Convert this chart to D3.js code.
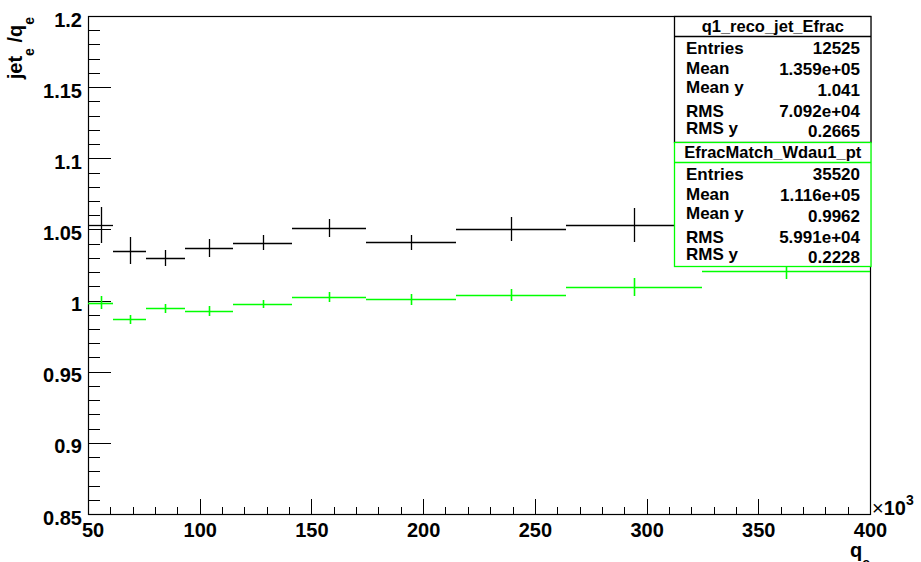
<!DOCTYPE html>
<html>
<head>
<meta charset="utf-8">
<script src="https://cdn.jsdelivr.net/npm/d3@7"></script>
<style>
  html, body { margin: 0; padding: 0; background: #fff; }
  svg { display: block; }
  text { font-family: "Liberation Sans", Arial, sans-serif; font-weight: bold; }
</style>
</head>
<body>
<svg id="chart" width="921" height="562"></svg>
<script>
// ---------------- data ----------------
const binEdges = [50, 61.4, 75.8, 93.4, 115, 141.4, 174.3, 214.6, 264, 325, 400]; // x (×10^3)
const recoValues = [1.0531, 1.0351, 1.0297, 1.0367, 1.0407, 1.0508, 1.0410, 1.0503, 1.0533, 1.055];
const recoErrors = [0.0129, 0.0094, 0.0056, 0.0063, 0.0053, 0.0063, 0.0053, 0.0082, 0.0120, 0.0120];
const matchValues = [0.9985, 0.9868, 0.9946, 0.9929, 0.9976, 1.0027, 1.0009, 1.0041, 1.0095, 1.0206];
const matchErrors = [0.0047, 0.0032, 0.0030, 0.0034, 0.0027, 0.0035, 0.0039, 0.0043, 0.0061, 0.0057];

const xMajorTicks = [50, 100, 150, 200, 250, 300, 350, 400];
const yMajorTicks = [0.85, 0.9, 0.95, 1.0, 1.05, 1.1, 1.15, 1.2];

const statLabels = ["Entries", "Mean", "Mean y", "RMS", "RMS y"];
const recoStats = ["12525", "1.359e+05", "1.041", "7.092e+04", "0.2665"];
const matchStats = ["35520", "1.116e+05", "0.9962", "5.991e+04", "0.2228"];
const recoTitle = "q1_reco_jet_Efrac";
const matchTitle = "EfracMatch_Wdau1_pt";

// ---------------- layout ----------------
const svg = d3.select("#chart");
const frame = { left: 88, right: 870, top: 16, bottom: 514 };
const x = d3.scaleLinear().domain([50, 400]).range([frame.left, frame.right]);
const y = d3.scaleLinear().domain([0.85, 1.2]).range([frame.bottom, frame.top]);
const snap = v => Math.round(v) + 0.5;

const GREEN = "#00ff00";

// minor ticks (derived from scale)
const xMinor = d3.range(50, 400.001, 10).filter(v => Math.abs(v % 50) > 1e-6);
const yMinor = d3.range(0, 36).map(i => +(0.85 + i * 0.01).toFixed(2)).filter(v => Math.abs((v * 100) % 5) > 1e-6);

const fmtY = d => String(+d.toFixed(2));

// y axis: minor
svg.append("g")
  .attr("transform", `translate(${frame.left},0)`)
  .call(d3.axisLeft(y).tickValues(yMinor).tickSizeInner(-12).tickSizeOuter(0).tickFormat(""))
  .call(g => g.select(".domain").remove())
  .call(g => g.selectAll("line").attr("stroke", "#000").attr("shape-rendering", "crispEdges"));
// y axis: major
svg.append("g")
  .attr("transform", `translate(${frame.left},0)`)
  .call(d3.axisLeft(y).tickValues(yMajorTicks).tickSizeInner(-23).tickSizeOuter(0).tickPadding(6).tickFormat(fmtY))
  .call(g => g.select(".domain").remove())
  .call(g => g.selectAll("line").attr("stroke", "#000").attr("shape-rendering", "crispEdges"))
  .call(g => g.selectAll("text").attr("font-size", 20).attr("font-family", "Liberation Sans, Arial, sans-serif")
     .attr("font-weight", "bold").attr("fill", "#000").attr("dy", "0.5em"));

// x axis: minor
svg.append("g")
  .attr("transform", `translate(0,${frame.bottom})`)
  .call(d3.axisBottom(x).tickValues(xMinor).tickSizeInner(-7).tickSizeOuter(0).tickFormat(""))
  .call(g => g.select(".domain").remove())
  .call(g => g.selectAll("line").attr("stroke", "#000").attr("shape-rendering", "crispEdges"));
// x axis: major
svg.append("g")
  .attr("transform", `translate(0,${frame.bottom})`)
  .call(d3.axisBottom(x).tickValues(xMajorTicks).tickSizeInner(-15).tickSizeOuter(0).tickPadding(9).tickFormat(d3.format("d")))
  .call(g => g.select(".domain").remove())
  .call(g => g.selectAll("line").attr("stroke", "#000").attr("shape-rendering", "crispEdges"))
  .call(g => g.selectAll("text").attr("font-size", 20).attr("font-family", "Liberation Sans, Arial, sans-serif")
     .attr("font-weight", "bold").attr("fill", "#000"))
  .call(g => g.selectAll(".tick").filter(d => d === 50).select("text").attr("dx", 4.5));

// frame
svg.append("rect")
  .attr("x", frame.left + 0.5).attr("y", frame.top + 0.5)
  .attr("width", frame.right - frame.left).attr("height", frame.bottom - frame.top)
  .attr("fill", "none").attr("stroke", "#000").attr("stroke-width", 1.2);

// exponent label
const ex = svg.append("text").attr("x", frame.right + 2).attr("y", 515).attr("font-size", 20).attr("fill", "#000");
ex.append("tspan").attr("font-weight", "normal").text("×");
ex.append("tspan").text("10");
ex.append("tspan").attr("font-size", 14).attr("dy", -10).text("3");

// axis titles
const xt = svg.append("text").attr("x", frame.right).attr("y", 557).attr("text-anchor", "end")
  .attr("font-size", 20).attr("fill", "#000");
xt.append("tspan").text("q");
xt.append("tspan").attr("font-size", 14).attr("dy", 11).text("e");

const yt = svg.append("text").attr("transform", "translate(22,17) rotate(-90)").attr("text-anchor", "end")
  .attr("font-size", 20).attr("fill", "#000");
yt.append("tspan").text("jet");
yt.append("tspan").attr("font-size", 14).attr("dy", 12).text("e");
yt.append("tspan").attr("dy", -12).text(" /q");
yt.append("tspan").attr("font-size", 14).attr("dy", 12).text("e");

// ---------------- data marks ----------------
function drawProfile(values, errors, color, width) {
  const bins = values.map((v, i) => ({
    x0: binEdges[i], x1: binEdges[i + 1], xc: (binEdges[i] + binEdges[i + 1]) / 2, v, e: errors[i]
  }));
  const g = svg.append("g").attr("stroke", color).attr("stroke-width", width);
  g.selectAll("line.h").data(bins).join("line").attr("class", "h")
    .attr("x1", d => Math.round(x(d.x0))).attr("x2", d => Math.round(x(d.x1)))
    .attr("y1", d => snap(y(d.v))).attr("y2", d => snap(y(d.v)));
  g.selectAll("line.v").data(bins).join("line").attr("class", "v")
    .attr("x1", d => snap(x(d.xc))).attr("x2", d => snap(x(d.xc)))
    .attr("y1", d => Math.round(y(d.v - d.e))).attr("y2", d => Math.round(y(d.v + d.e)));
}
drawProfile(recoValues, recoErrors, "#000", 1.3);
drawProfile(matchValues, matchErrors, GREEN, 1.6);

// ---------------- stat boxes ----------------
function statBox(top, bottom, color, title, values) {
  const left = 674.5, right = 871;
  const g = svg.append("g");
  g.append("rect").attr("x", left).attr("y", top + 0.5).attr("width", right - left).attr("height", bottom - top)
    .attr("fill", "#fff").attr("stroke", color).attr("stroke-width", 1.3);
  g.append("line").attr("x1", left).attr("x2", right).attr("y1", top + 20.5).attr("y2", top + 20.5)
    .attr("stroke", color).attr("stroke-width", 1.3);
  g.append("text").attr("x", (left + right) / 2).attr("y", top + 16).attr("text-anchor", "middle")
    .attr("font-size", 16.5).attr("fill", "#000").text(title);
  const labelOffsets = [38.3, 58.3, 76.5, 101, 117.5];
  const valueOffsets = [38.3, 58.7, 80, 101, 121];
  g.selectAll("text.lab").data(statLabels).join("text").attr("class", "lab")
    .attr("x", 686).attr("y", (d, i) => top + labelOffsets[i])
    .attr("font-size", 17).attr("fill", "#000").text(d => d);
  g.selectAll("text.val").data(values).join("text").attr("class", "val")
    .attr("x", 860).attr("y", (d, i) => top + valueOffsets[i]).attr("text-anchor", "end")
    .attr("font-size", 17).attr("fill", "#000").text(d => d);
}
statBox(16, 142, "#000", recoTitle, recoStats);
statBox(142, 266, GREEN, matchTitle, matchStats);
</script>
</body>
</html>
